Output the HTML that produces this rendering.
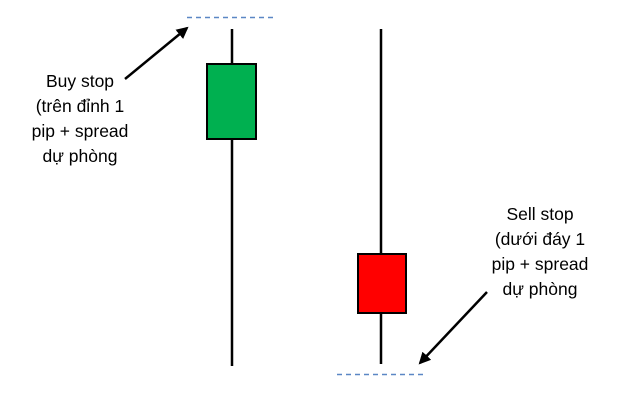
<!DOCTYPE html>
<html><head><meta charset="utf-8"><style>
body{margin:0;background:#fff;}
.t{position:absolute;font-family:"Liberation Sans",sans-serif;font-size:17.5px;color:#000;text-align:center;line-height:25px;}
</style></head><body>
<div style="position:relative;width:624px;height:407px;overflow:hidden">
<svg width="624" height="407" style="position:absolute;left:0;top:0">
<defs><marker id="a" markerWidth="12" markerHeight="12" refX="10" refY="6" orient="auto" markerUnits="userSpaceOnUse"><path d="M0,0 L12,6 L0,12 z" fill="#000"/></marker></defs>
<line x1="187" y1="17.5" x2="275" y2="17.5" stroke="#5b87c5" stroke-width="1.5" stroke-dasharray="5,4"/>
<line x1="337" y1="374.5" x2="426" y2="374.5" stroke="#5b87c5" stroke-width="1.5" stroke-dasharray="5,4"/>
<line x1="232" y1="29" x2="232" y2="366" stroke="#000" stroke-width="2.5"/>
<rect x="207" y="64" width="49" height="75" fill="#00b050" stroke="#000" stroke-width="2"/>
<line x1="381" y1="29" x2="381" y2="364" stroke="#000" stroke-width="2.5"/>
<rect x="358" y="254" width="48" height="59" fill="#ff0000" stroke="#000" stroke-width="2"/>
<line x1="125" y1="79" x2="187" y2="28" stroke="#000" stroke-width="2.5" marker-end="url(#a)"/>
<line x1="487" y1="292" x2="420" y2="363" stroke="#000" stroke-width="2.5" marker-end="url(#a)"/>
</svg>
<div class="t" style="left:20px;top:69px;width:120px">Buy stop<br>(trên đỉnh 1<br>pip + spread<br>dự phòng</div>
<div class="t" style="left:480px;top:202px;width:120px">Sell stop<br>(dưới đáy 1<br>pip + spread<br>dự phòng</div>
</div>
</body></html>
